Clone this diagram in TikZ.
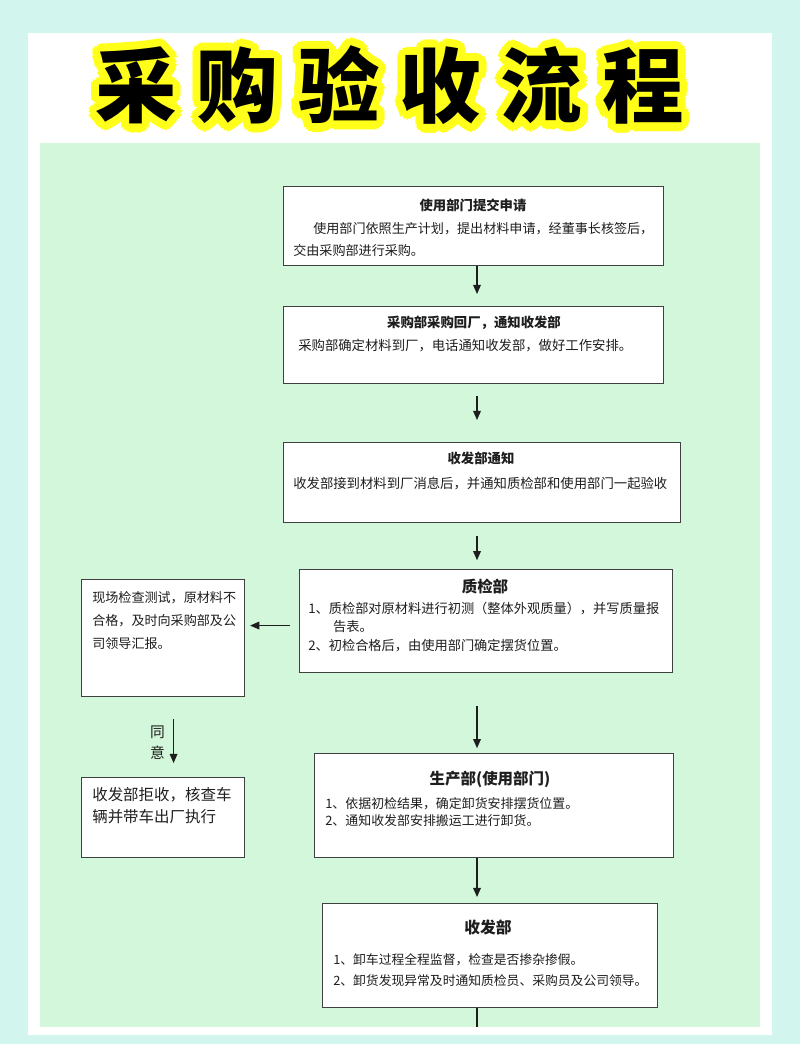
\documentclass[tikz,border=0pt]{standalone}
\usepackage{fontspec}
\setmainfont{Noto Sans CJK SC}
\usepackage{tikz}
\usetikzlibrary{arrows.meta, calc}
\definecolor{outerbg}{HTML}{D2F5EE}
\definecolor{panelbg}{HTML}{D3F7DA}
\definecolor{glow}{HTML}{FFFF1A}
\definecolor{ink}{HTML}{1E1E1E}
\newcommand{\setfs}[2]{\fontsize{#1}{#2}\selectfont}

\begin{document}
\begin{tikzpicture}[x=0.025cm, y=-0.025cm,
    box/.style={draw=ink!85, line width=0.9pt, fill=white, anchor=north west, inner sep=0pt},
    txt/.style={anchor=north west, inner sep=0pt, align=left, text=ink},
    hd/.style={inner sep=0pt, text=ink, font=\bfseries\setfs{9.5}{12}},
    arr/.style={-{Triangle[length=6.5pt,width=5.5pt]}, line width=0.8pt, draw=ink},
    ttl/.style={anchor=base, inner sep=0pt, font=\bfseries\setfs{58}{60}}]
    % ---- 背景 ----
    \fill[outerbg] (0,0) rectangle (800,1044);
    \fill[white] (28,33) rectangle (772,1035);
    \fill[panelbg] (40,143) rectangle (760,1027);
    \useasboundingbox (0,0) rectangle (800,1044);
    % ---- 标题 ----
    \foreach \ch [count=\i] in {采,购,验,收,流,程} {
        \foreach \a [count=\k] in {0,22.5,...,337.5} {
            \node[ttl, text=glow] (ga\i-\k) at ($(34.6+101.4*\i,117)+(\a:0.1cm)$) {\ch};
            \node[ttl, text=glow] (gb\i-\k) at ($(34.6+101.4*\i,117)+(\a:0.2cm)$) {\ch};
        }
        \node[ttl, text=black] (c\i) at (34.6+101.4*\i,117) {\ch};
    }
    % ---- 主流程 ----
    \node[box, minimum width=9.5cm, minimum height=1.975cm] (b1) at (283,186) {};
    \node[hd] (h1) at (473,205) {使用部门提交申请};
    \node[txt, font=\setfs{9.3}{15.6}] (d1) at (293,222)
        {\hspace*{0.5cm}使用部门依照生产计划，提出材料申请，经董事长核签后，\\交由采购部进行采购。};

    \node[box, minimum width=9.5cm, minimum height=1.925cm] (b2) at (283,306) {};
    \node[hd] (h2) at (474,323) {采购部采购回厂，通知收发部};
    \node[txt, font=\setfs{9.5}{15}] (d2) at (298,339) {采购部确定材料到厂，电话通知收发部，做好工作安排。};

    \node[box, minimum width=9.925cm, minimum height=2cm] (b3) at (283,442) {};
    \node[hd] (h3) at (481,458) {收发部通知};
    \node[txt, font=\setfs{9.5}{15}] (d3) at (293,477) {收发部接到材料到厂消息后，并通知质检部和使用部门一起验收};

    \node[box, minimum width=9.325cm, minimum height=2.575cm] (b4) at (299,569) {};
    \node[hd, font=\bfseries\setfs{11}{13}] (h4) at (485,587) {质检部};
    \node[txt, font=\setfs{9.4}{13.2}] (d4) at (308,601.5)
        {1、质检部对原材料进行初测（整体外观质量），并写质量报\\\hspace*{0.62cm}告表。\\2、初检合格后，由使用部门确定摆货位置。};

    \node[box, minimum width=8.975cm, minimum height=2.6cm] (b5) at (314,753) {};
    \node[hd, font=\bfseries\setfs{11}{13}] (h5) at (490,779) {生产部(使用部门)};
    \node[txt, font=\setfs{9.2}{12.1}] (d5) at (325,797)
        {1、依据初检结果，确定卸货安排摆货位置。\\2、通知收发部安排搬运工进行卸货。};

    \node[box, minimum width=8.375cm, minimum height=2.6cm] (b6) at (322,903) {};
    \node[hd, font=\bfseries\setfs{11.2}{13}] (h6) at (488,927) {收发部};
    \node[txt, font=\setfs{9.1}{15}] (d6) at (333,953)
        {1、卸车过程全程监督，检查是否掺杂掺假。\\2、卸货发现异常及时通知质检员、采购员及公司领导。};

    % ---- 不合格分支 ----
    \node[box, minimum width=4.075cm, minimum height=2.925cm] (l1) at (81,579) {};
    \node[txt, font=\setfs{9.3}{16.4}] (n1) at (92,591)
        {现场检查测试，原材料不\\合格，及时向采购部及公\\司领导汇报。};
    \node[box, minimum width=4.075cm, minimum height=2cm] (l2) at (81,777) {};
    \node[txt, font=\setfs{11}{15.6}] (n2) at (92,787.5) {收发部拒收，核查车\\辆并带车出厂执行};

    % ---- 箭头 ----
    \coordinate (spine) at (477,0);
    \coordinate (tail) at (477,1027);
    \coordinate (q) at ([yshift=-0.11cm]b4.west);
    \draw[arr, shorten >=0.3cm] (b1.south -| spine) -- (b2.north -| spine);
    \draw[arr, shorten <=0.3cm, shorten >=0.55cm] (b2.south -| spine) -- (b3.north -| spine);
    \draw[arr, shorten <=0.32cm, shorten >=0.22cm] (b3.south -| spine) -- (b4.north -| spine);
    \draw[arr, shorten <=0.82cm, shorten >=0.12cm] (b4.south -| spine) -- (b5.north -| spine);
    \draw[arr, shorten >=0.15cm] (b5.south -| spine) -- (b6.north -| spine);
    \draw[line width=0.8pt, draw=ink] (b6.south -| spine) -- (tail);
    \draw[arr, shorten <=0.22cm, shorten >=0.12cm] (q) -- (l1.east |- q);
    \draw[arr, shorten <=0.55cm, shorten >=0.35cm] ([xshift=0.26cm]l1.south) -- ([xshift=0.26cm]l2.north)
        node[pos=0.57, left=0.2cm, inner sep=0pt, align=center, text=ink, font=\setfs{10.5}{15}] (agree) {同\\意};
\end{tikzpicture}
\end{document}
